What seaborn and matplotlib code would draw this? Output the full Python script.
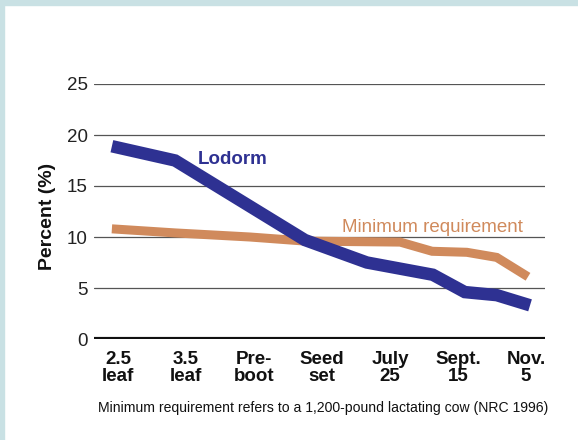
import numpy as np
import pandas as pd
import matplotlib
matplotlib.use("Agg")
import matplotlib.pyplot as plt
import seaborn as sns
from matplotlib.patches import Rectangle

# stage positions (category units) and values
stages = ["2.5\nleaf", "3.5\nleaf", "Pre-\nboot", "Seed\nset", "July\n25", "Sept.\n15", "Nov.\n5"]

lodorm_x = [-0.09, 0.84, 2.75, 3.66, 4.63, 5.10, 5.57, 6.06]
lodorm_y = [18.9, 17.5, 9.7, 7.5, 6.3, 4.6, 4.3, 3.3]

minreq_x = [-0.09, 0.84, 1.94, 2.75, 4.15, 4.62, 5.13, 5.57, 6.03]
minreq_y = [10.8, 10.4, 10.0, 9.6, 9.5, 8.6, 8.5, 8.0, 6.1]

yticks = [0, 5, 10, 15, 20, 25]

navy = "#2e3192"
tan = "#d08a5c"

sns.set_style("white")
plt.rcParams["font.family"] = ["Liberation Sans", "DejaVu Sans"]

fig = plt.figure(figsize=(5.78, 4.4), dpi=100)
ax = fig.add_axes([94 / 578, 1 - 339 / 440, 451 / 578, 255 / 440])

# light blue frame on top and left
fig.patches.append(Rectangle((0, 1 - 5 / 440), 1, 5 / 440, transform=fig.transFigure,
                             color="#c9e1e4", zorder=0))
fig.patches.append(Rectangle((0, 0), 4 / 578, 1, transform=fig.transFigure,
                             color="#c9e1e4", zorder=0))

for y in yticks[1:]:
    ax.axhline(y, color="#555555", lw=0.9, zorder=1)
ax.axhline(0, color="#111111", lw=3, zorder=1)

df_min = pd.DataFrame({"x": minreq_x, "y": minreq_y})
df_lod = pd.DataFrame({"x": lodorm_x, "y": lodorm_y})
sns.lineplot(data=df_min, x="x", y="y", ax=ax, color=tan, lw=6.5, sort=False,
             solid_capstyle="butt", solid_joinstyle="miter", zorder=3)
sns.lineplot(data=df_lod, x="x", y="y", ax=ax, color=navy, lw=9, sort=False,
             solid_capstyle="butt", solid_joinstyle="miter", zorder=4)

ax.text(1.18, 17.2, "Lodorm", color=navy, fontsize=13.5, fontweight="bold",
        ha="left", va="baseline")
ax.text(4.63, 10.5, "Minimum requirement", color=tan, fontsize=13.5,
        ha="center", va="baseline")

ax.set_xlim(-0.353, 6.28)
ax.set_ylim(0, 25)
ax.set_yticks(yticks)
ax.set_xticks(range(len(stages)))
ax.set_xticklabels(stages, fontweight="bold", fontsize=13.5, linespacing=1.05)
ax.tick_params(axis="y", length=0, pad=4.5, labelsize=13.5, labelcolor="#222222")
ax.tick_params(axis="x", length=0, pad=8.5, labelcolor="#111111")
for s in ax.spines.values():
    s.set_visible(False)
ax.set_xlabel("")
ax.set_ylabel("Percent (%)", fontsize=14, fontweight="bold", color="#111111")
ax.yaxis.set_label_coords(-0.085, 0.48)

fig.text(0.559, 0.073, "Minimum requirement refers to a 1,200-pound lactating cow (NRC 1996)",
         ha="center", va="center", fontsize=10.1, color="#111111")

fig.savefig("out.png", dpi=100)
